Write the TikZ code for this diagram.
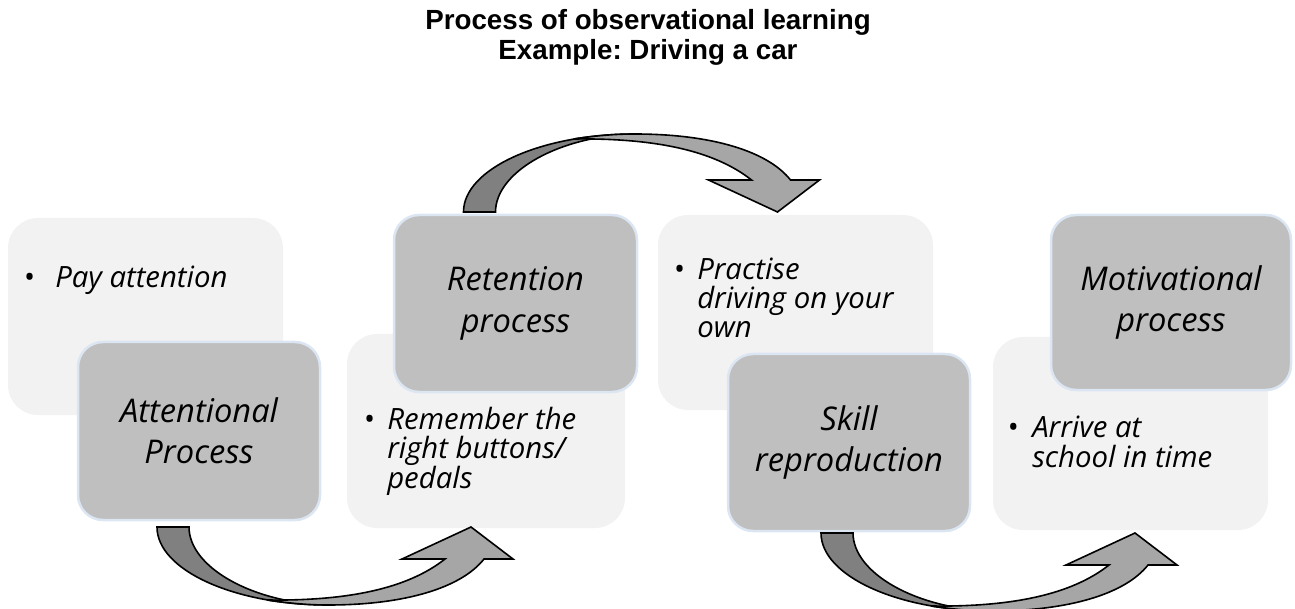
\documentclass[tikz,border=0pt]{standalone}
\usepackage{fontspec}
\newfontfamily\boxfont{Open Sans}
\newfontfamily\titlefont{Liberation Sans}
\frenchspacing
\newdimen\pxu \pxu=0.75pt
\definecolor{boxlight}{HTML}{F2F2F2}
\definecolor{boxdark}{HTML}{BFBFBF}
\definecolor{boxrim}{HTML}{DCE6F2}
\definecolor{arrowdark}{HTML}{808080}
\definecolor{arrowlight}{HTML}{A6A6A6}
\newcommand\darktext{\boxfont\itshape\fontsize{24.5}{31}\selectfont}
\newcommand\lighttext{\boxfont\itshape\fontsize{22}{21.8}\selectfont\lineskiplimit=-30pt\relax}
\newcommand\bul[1]{\llap{\upshape\textbullet\hspace{#1}}}
\tikzset{
  lightbox/.style={fill=boxlight, rounded corners=30\pxu, inner sep=0pt, outer sep=0pt},
  darkbox/.style={fill=boxdark, draw=boxrim, line width=2.5\pxu, rounded corners=25\pxu,
    inner sep=0pt, outer sep=0pt, align=center, font=\darktext},
  % anchored at the baseline of the last line
  bullettext/.style={anchor=base west, inner sep=0pt, align=left, font=\lighttext},
  arrowpart/.style={draw=black, line width=1.6\pxu, line join=miter},
  % bent block arrow: darker back stem, lighter front band with head
  pics/bentarrow/.style={code={
    \path[arrowpart, fill=arrowdark] (0,0) .. controls (0,43) and (77,78) .. (171,78)
      .. controls (95,76) and (32,40) .. (32,0) -- cycle;
    \path[arrowpart, fill=arrowlight] (110,73) .. controls (130,76) and (150,78) .. (171,78)
      .. controls (250,78) and (305,60) .. (327,32) -- (356,32) -- (314,0) -- (245,32)
      -- (288,32) .. controls (250,62) and (190,74) .. (110,73) -- cycle;
  }}
}
\begin{document}
\begin{tikzpicture}[x=0.75pt, y=-0.75pt]
\useasboundingbox (0,0) rectangle (1295,609);

\node[font=\titlefont\bfseries\fontsize{20.8}{22.5}\selectfont, align=center, anchor=base]
  (title) at (648,60) {Process of observational learning\\Example: Driving a car};

% light detail panels
\node[lightbox, minimum width=275\pxu, minimum height=197\pxu] (pay) at (145.5,316.5) {};
\node[lightbox, minimum width=278\pxu, minimum height=194\pxu] (rem) at (486,431) {};
\node[lightbox, minimum width=275\pxu, minimum height=195\pxu] (pra) at (795.5,312.5) {};
\node[lightbox, minimum width=275\pxu, minimum height=193\pxu] (arr) at (1130.5,433.5) {};

% process boxes
\node[darkbox, minimum width=242\pxu, minimum height=178\pxu] (att) at (199,431) {Attentional\\Process};
\node[darkbox, minimum width=243\pxu, minimum height=177\pxu] (ret) at (515.5,303.5) {Retention\\process};
\node[darkbox, minimum width=242\pxu, minimum height=177\pxu] (skl) at (849,442.5) {Skill\\reproduction};
\node[darkbox, minimum width=240\pxu, minimum height=175\pxu] (mot) at (1171,302.5) {Motivational\\process};

% panel texts
\node[bullettext] (paytxt) at (55,288) {\bul{15pt}Pay attention};
\node[bullettext] (remtxt) at (387,488) {\bul{9pt}Remember the\\right buttons/\\pedals};
\node[bullettext] (pratxt) at (697,338) {\bul{9pt}Practise\\driving on your\\own};
\node[bullettext] (arrtxt) at (1032,467) {\bul{10pt}Arrive at\\school in time};

% connecting arrows
\pic at ([shift={(-42,7)}]att.south) {bentarrow};
\pic[yscale=-1] at ([shift={(-52,-3)}]ret.north) {bentarrow};
\pic at ([shift={(-28,2)}]skl.south) {bentarrow};
\end{tikzpicture}
\end{document}
